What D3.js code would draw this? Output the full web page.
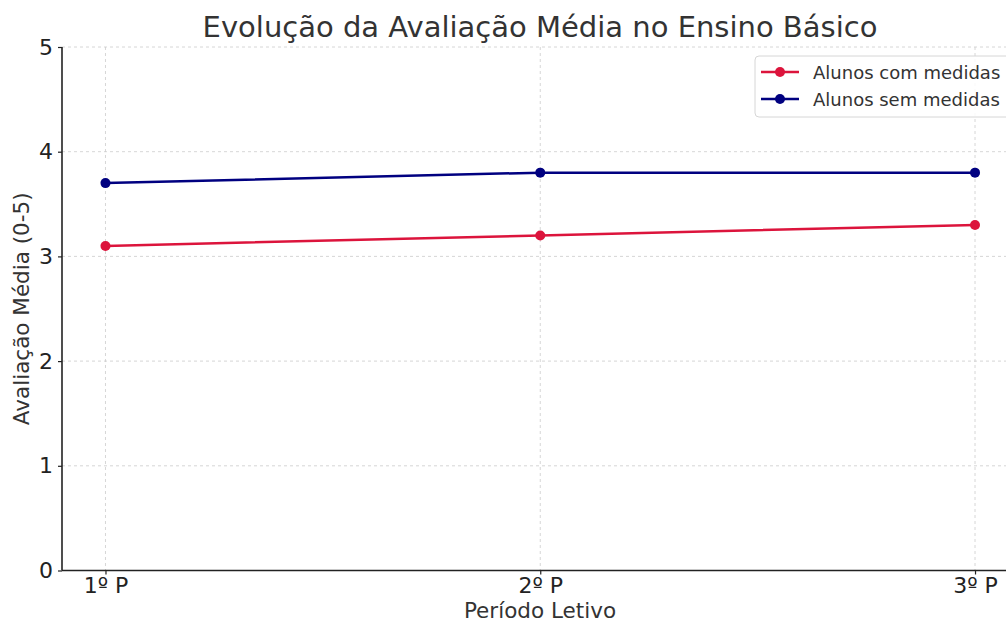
<!DOCTYPE html>
<html><head><meta charset="utf-8">
<script src="https://cdn.jsdelivr.net/npm/d3@7"></script>
<style>body{margin:0;background:#fff;}svg{display:block;font-family:"DejaVu Sans",sans-serif;}</style>
</head><body>
<svg id="c" width="1006" height="624"></svg>
<script>
const categories = ["1º P", "2º P", "3º P"];
const comMedidas = [3.1, 3.2, 3.3];
const semMedidas = [3.7, 3.8, 3.8];
const yTicks = [0, 1, 2, 3, 4, 5];
const seriesNames = ["Alunos com medidas", "Alunos sem medidas"];
const seriesColors = ["#dc143c", "#000080"];

(function(){
const svg = d3.select("#c");
const pl = 62, pr = 1018.5, pt = 47, pb = 570.5;
// matplotlib 5% margins: point positions at 105, 540, 975
const xl = d3.scaleLinear().domain([-0.1, 2.1]).range([pl, pr]);
const y = d3.scaleLinear().domain([0, 5]).range([pb, pt]);

// grid
const g = svg.append("g");
g.selectAll(".gy").data(yTicks).join("line")
  .attr("x1", pl).attr("x2", pr).attr("y1", d => y(d)).attr("y2", d => y(d))
  .attr("stroke", "#cccccc").attr("stroke-width", 0.8).attr("stroke-dasharray", "3,3");
g.selectAll(".gx").data(categories).join("line")
  .attr("x1", (d,i) => xl(i)).attr("x2", (d,i) => xl(i)).attr("y1", pt).attr("y2", pb)
  .attr("stroke", "#cccccc").attr("stroke-width", 0.8).attr("stroke-dasharray", "3,3");

// axes
const xAxis = d3.axisBottom(xl)
  .tickValues([0,1,2]).tickFormat(i => categories[i]).tickSize(4).tickPadding(3);
const ax = svg.append("g").attr("transform", `translate(0,${pb})`).call(xAxis);
ax.select(".domain").attr("stroke", "#222").attr("stroke-width", 1.6).attr("d", `M${pl},0H${pr}`);
ax.selectAll(".tick line").attr("stroke", "#222").attr("stroke-width", 1.2);
ax.selectAll(".tick text").attr("font-size", 22).attr("fill", "#222").attr("font-family", "DejaVu Sans");

const yAxis = d3.axisLeft(y).tickValues(yTicks).tickFormat(d3.format("d")).tickSize(4).tickPadding(5);
const ay = svg.append("g").attr("transform", `translate(${pl},0)`).call(yAxis);
ay.select(".domain").attr("stroke", "#222").attr("stroke-width", 1.6).attr("d", `M0,${pb}V${pt}`);
ay.selectAll(".tick line").attr("stroke", "#222").attr("stroke-width", 1.2);
ay.selectAll(".tick text").attr("font-size", 22).attr("fill", "#222").attr("font-family", "DejaVu Sans");

// lines
const data = [comMedidas, semMedidas];
const line = d3.line().x((d,i) => xl(i)).y(d => y(d));
data.forEach((s, k) => {
  svg.append("path").datum(s).attr("d", line).attr("fill", "none")
    .attr("stroke", seriesColors[k]).attr("stroke-width", 2.5);
  svg.append("g").selectAll("circle").data(s).join("circle")
    .attr("cx", (d,i) => xl(i)).attr("cy", d => y(d)).attr("r", 5)
    .attr("fill", seriesColors[k]);
});

// title & labels
svg.append("text").attr("x", 540).attr("y", 37).attr("text-anchor", "middle")
  .attr("font-size", 29).attr("fill", "#333").text("Evolução da Avaliação Média no Ensino Básico");
svg.append("text").attr("x", 540).attr("y", 618).attr("text-anchor", "middle")
  .attr("font-size", 21.5).attr("fill", "#333").text("Período Letivo");
svg.append("text").attr("transform", `translate(29,${(pt+pb)/2}) rotate(-90)`).attr("text-anchor", "middle")
  .attr("font-size", 21.5).attr("fill", "#333").text("Avaliação Média (0-5)");

// legend
const lg = svg.append("g");
lg.append("rect").attr("x", 755).attr("y", 56).attr("width", 270).attr("height", 61).attr("rx", 4)
  .attr("fill", "rgba(255,255,255,0.85)").attr("stroke", "#d6d6d6").attr("stroke-width", 1);
seriesNames.forEach((n, k) => {
  const yy = 72 + k * 27;
  lg.append("line").attr("x1", 761).attr("x2", 799).attr("y1", yy).attr("y2", yy)
    .attr("stroke", seriesColors[k]).attr("stroke-width", 2.5);
  lg.append("circle").attr("cx", 780).attr("cy", yy).attr("r", 5).attr("fill", seriesColors[k]);
  lg.append("text").attr("x", 813).attr("y", yy + 6.5).attr("font-size", 18).attr("fill", "#333").text(n);
});
})();
</script>
</body></html>
